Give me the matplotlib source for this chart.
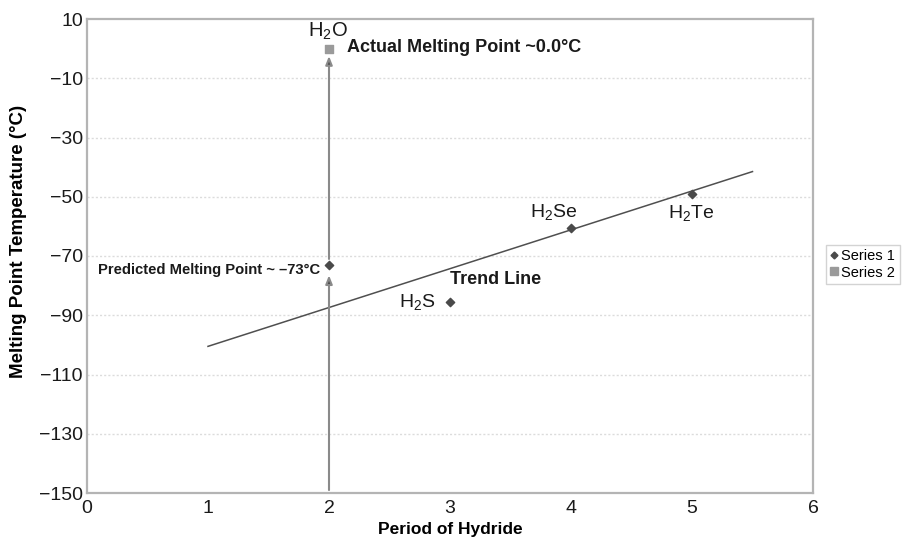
import matplotlib
matplotlib.use("Agg")
import matplotlib.pyplot as plt
from matplotlib.lines import Line2D

# Data
series1_x = [2, 3, 4, 5]
series1_y = [-73, -85.5, -60.5, -49]
series2_x = [2]
series2_y = [0.0]
trend_x = [1, 5.5]
trend_y = [-100.5, -41.5]
hydride_labels = ["H$_2$S", "H$_2$Se", "H$_2$Te"]
x_ticks = [0, 1, 2, 3, 4, 5, 6]
y_ticks = [10, -10, -30, -50, -70, -90, -110, -130, -150]

family = "Liberation Sans"
plt.rcParams["font.family"] = [family, "DejaVu Sans"]
plt.rcParams["mathtext.fontset"] = "custom"
plt.rcParams["mathtext.rm"] = family
plt.rcParams["mathtext.it"] = family
plt.rcParams["mathtext.default"] = "regular"

fig = plt.figure(figsize=(9.04, 5.4), dpi=100)
ax = fig.add_axes([87 / 904, 47 / 540, 726 / 904, 474 / 540])

ax.set_xlim(0, 6)
ax.set_ylim(-150, 10)
ax.set_xticks(x_ticks)
ax.set_yticks(y_ticks)
ax.tick_params(length=0, labelsize=14, colors="#1a1a1a")
ax.tick_params(axis="x", pad=5)
ax.tick_params(axis="y", pad=3)

for s in ax.spines.values():
    s.set_color("#b4b4b4")
    s.set_linewidth(1.6)

for y in y_ticks[1:-1]:
    ax.axhline(y, color="#dcdcdc", lw=1.0, ls=(0, (1.5, 1.5)), zorder=0)

# vertical arrows at period 2
arrow_kw = dict(arrowstyle="-|>,head_length=0.5,head_width=0.2",
                color="#8a8a8a", lw=1.5, shrinkA=0, shrinkB=0)
a1 = ax.annotate("", xy=(2, -76.5), xytext=(2, -149), arrowprops=arrow_kw)
a2 = ax.annotate("", xy=(2, -2.5), xytext=(2, -71), arrowprops=arrow_kw)
for a in (a1, a2):
    a.arrow_patch.set_facecolor("#4a4a4a")
    a.arrow_patch.set_edgecolor("#8a8a8a")

ax.plot(trend_x, trend_y, color="#4f4f4f", lw=1.1, zorder=2)

ax.scatter(series1_x, series1_y, marker="D", s=18, color="#4a4a4a", zorder=4)
ax.scatter(series2_x, series2_y, marker="s", s=28, color="#9a9a9a", zorder=4)

ax.text(1.99, 6.0, "H$_2$O", fontsize=14.5, ha="center", va="center", color="#1a1a1a")
ax.text(2.15, 0.5, "Actual Melting Point ~0.0°C", fontsize=13, fontweight="bold",
        ha="left", va="center", color="#1a1a1a")
ax.text(1.93, -74.7, "Predicted Melting Point ~ \u201373°C", fontsize=10.6, fontweight="bold",
        ha="right", va="center", color="#1a1a1a")
ax.text(3.0, -77.8, "Trend Line", fontsize=13, fontweight="bold",
        ha="left", va="center", color="#1a1a1a")
ax.text(2.88, -85.4, hydride_labels[0], fontsize=14, ha="right", va="center", color="#1a1a1a")
ax.text(3.86, -55.2, hydride_labels[1], fontsize=14, ha="center", va="center", color="#1a1a1a")
ax.text(4.99, -55.5, hydride_labels[2], fontsize=14, ha="center", va="center", color="#1a1a1a")

ax.set_xlabel("Period of Hydride", fontsize=12.5, fontweight="bold")
ax.set_ylabel("Melting Point Temperature (°C)", fontsize=13.5, fontweight="bold")
ax.xaxis.set_label_coords(0.5, -0.062)
ax.yaxis.set_label_coords(-0.083, 0.53)

handles = [
    Line2D([], [], marker="D", ls="none", color="#4a4a4a", markersize=3.5),
    Line2D([], [], marker="s", ls="none", color="#9a9a9a", markersize=5.5),
]
fig.legend(handles, ["Series 1", "Series 2"], loc="upper left",
           bbox_to_anchor=(826 / 904, 1 - 245 / 540), fontsize=10.5, frameon=True,
           fancybox=False, edgecolor="#c8c8c8", handlelength=0.5, handletextpad=0.25,
           borderpad=0.3, labelspacing=0.15, borderaxespad=0)

fig.savefig("out.png", dpi=100)
